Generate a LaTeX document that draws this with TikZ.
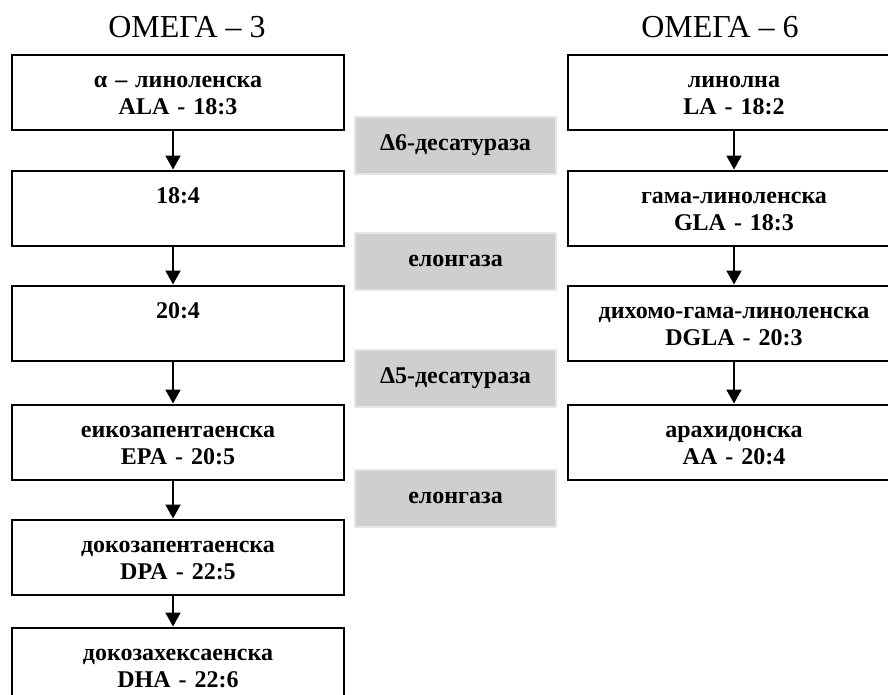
\documentclass[tikz,border=0pt]{standalone}
\usepackage{fontspec}
\setmainfont{Liberation Serif}
\usetikzlibrary{positioning, arrows.meta}
\definecolor{enzfill}{RGB}{208,206,207}
\definecolor{enzdraw}{RGB}{230,230,230}

\begin{document}
\begin{tikzpicture}[
        x=1pt, y=-1pt,
        >={Triangle[length=14pt, width=15pt]},
        % Styles
        title/.style={font=\fontsize{32}{36}\selectfont, inner sep=0pt},
        acid/.style={draw=black, line width=2pt, fill=white, minimum width=332pt, minimum height=75pt, text width=326pt, align=center, inner sep=0pt, font=\fontsize{24}{27}\selectfont\bfseries, execute at begin node=\rule{0pt}{26pt}, execute at end node=\strut},
        enzyme/.style={draw=enzdraw, fill=enzfill, line width=2pt, minimum width=201pt, minimum height=57pt, inner sep=0pt, font=\fontsize{24}{27}\selectfont\bfseries},
        arrow/.style={->, line width=2pt, draw=black}
    ]

    \path[use as bounding box, clip] (0,0) rectangle (888,694);

    % Column titles
    \node[title, anchor=base] (t3) at (187,37) {ОМЕГА – 3};
    \node[title, anchor=base] (t6) at (720,37) {ОМЕГА – 6};

    % Omega-3 chain (left)
    \node[acid] (ala) at (178,92) {α – линоленска\\ALA - 18:3};
    \node[acid, below=39pt of ala] (sda) {18:4\\};
    \node[acid, below=38pt of sda] (eta) {20:4\\};
    \node[acid, below=42pt of eta] (epa) {еикозапентаенска\\EPA - 20:5};
    \node[acid, below=38pt of epa] (dpa) {докозапентаенска\\DPA - 22:5};
    \node[acid, below=31pt of dpa] (dha) {докозахексаенска\\DHA - 22:6};

    \draw[arrow] ([xshift=-5pt]ala.south) -- ([xshift=-5pt]sda.north);
    \draw[arrow] ([xshift=-5pt]sda.south) -- ([xshift=-5pt]eta.north);
    \draw[arrow] ([xshift=-5pt]eta.south) -- ([xshift=-5pt]epa.north);
    \draw[arrow] ([xshift=-5pt]epa.south) -- ([xshift=-5pt]dpa.north);
    \draw[arrow] ([xshift=-5pt]dpa.south) -- ([xshift=-5pt]dha.north);

    % Omega-6 chain (right)
    \node[acid, right=222pt of ala] (la) {линолна\\LA - 18:2};
    \node[acid, right=222pt of sda] (gla) {гама-линоленска\\GLA - 18:3};
    \node[acid, right=222pt of eta] (dgla) {дихомо-гама-линоленска\\DGLA - 20:3};
    \node[acid, right=222pt of epa] (aa) {арахидонска\\AA - 20:4};

    \draw[arrow] (la) -- (gla);
    \draw[arrow] (gla) -- (dgla);
    \draw[arrow] (dgla) -- (aa);

    % Enzymes (middle)
    \node[enzyme] (d6) at (455.5,145.5) {Δ6-десатураза};
    \node[enzyme] (el1) at (455.5,261) {елонгаза};
    \node[enzyme] (d5) at (455.5,378.5) {Δ5-десатураза};
    \node[enzyme] (el2) at (455.5,498) {елонгаза};

\end{tikzpicture}
\end{document}
